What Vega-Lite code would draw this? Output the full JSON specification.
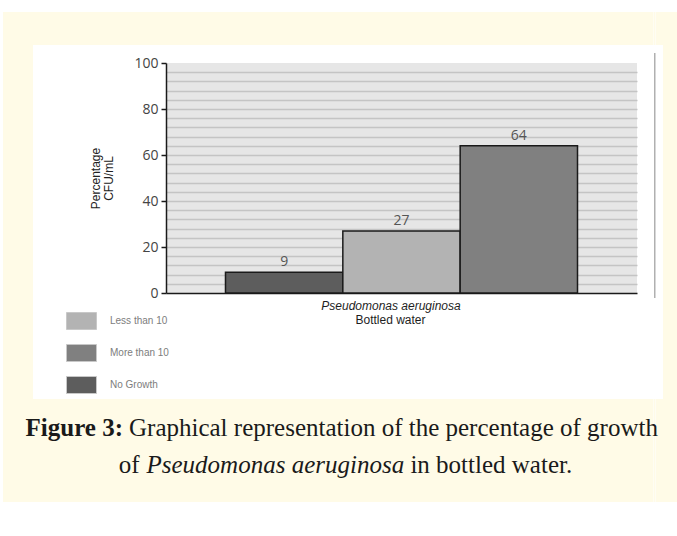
{
  "$schema": "https://vega.github.io/schema/vega-lite/v6.json",
  "background": "white",
  "padding": {"left": 3, "top": 12, "right": 0, "bottom": 34},
  "config": {"view": {"stroke": null}, "font": "Liberation Sans"},
  "columns": 7,
  "align": "each",
  "bounds": "flush",
  "spacing": 0,
  "concat": [
    {"width": 30, "height": 33, "data": {"values": []}, "mark": "rect", "view": {"fill": "#fffbe7"}},
    {"width": 133, "height": 33, "data": {"values": []}, "mark": "rect", "view": {"fill": "#fffbe7"}},
    {"width": 471, "height": 33, "data": {"values": []}, "mark": "rect", "view": {"fill": "#fffbe7"}},
    {"width": 16.5, "height": 33, "data": {"values": []}, "mark": "rect", "view": {"fill": "#fffbe7"}},
    {"width": 1.5, "height": 33, "data": {"values": []}, "mark": "rect", "view": {"fill": "#fffbe7"}},
    {"width": 7, "height": 33, "data": {"values": []}, "mark": "rect", "view": {"fill": "#fffbe7"}},
    {"width": 15, "height": 33, "data": {"values": []}, "mark": "rect", "view": {"fill": "#fffbe7"}},

    {"width": 30, "height": 8, "data": {"values": []}, "mark": "rect", "view": {"fill": "#fffbe7"}},
    {"width": 133, "height": 8, "data": {"values": []}, "mark": "rect"},
    {"width": 471, "height": 8, "data": {"values": []}, "mark": "rect"},
    {"width": 16.5, "height": 8, "data": {"values": []}, "mark": "rect"},
    {"width": 1.5, "height": 8, "data": {"values": []}, "mark": "rect"},
    {"width": 7, "height": 8, "data": {"values": []}, "mark": "rect"},
    {"width": 15, "height": 8, "data": {"values": []}, "mark": "rect", "view": {"fill": "#fffbe7"}},

    {"width": 30, "height": 10, "data": {"values": []}, "mark": "rect", "view": {"fill": "#fffbe7"}},
    {"width": 133, "height": 10, "data": {"values": []}, "mark": "rect"},
    {"width": 471, "height": 10, "data": {"values": []}, "mark": "rect"},
    {"width": 16.5, "height": 10, "data": {"values": []}, "mark": "rect"},
    {"width": 1.5, "height": 10, "data": {"values": []}, "mark": "rect", "view": {"fill": "#b0b0b0"}},
    {"width": 7, "height": 10, "data": {"values": []}, "mark": "rect"},
    {"width": 15, "height": 10, "data": {"values": []}, "mark": "rect", "view": {"fill": "#fffbe7"}},

    {"width": 30, "height": 230, "data": {"values": []}, "mark": "rect", "view": {"fill": "#fffbe7"}},
    {"width": 133, "height": 230, "data": {"values": []}, "mark": "rect"},
    {
      "width": 471,
      "height": 230,
      "view": {"fill": "#e6e6e6"},
      "data": {"values": [
        {"sample": "Pseudomonas aeruginosa", "growth": "No Growth", "percent": 9},
        {"sample": "Pseudomonas aeruginosa", "growth": "Less than 10", "percent": 27},
        {"sample": "Pseudomonas aeruginosa", "growth": "More than 10", "percent": 64}
      ]},
      "encoding": {
        "x": {
          "field": "sample", "type": "nominal",
          "scale": {"paddingInner": 0, "paddingOuter": 0.169},
          "axis": {
            "title": "Bottled water", "labelAngle": 0, "labelFontStyle": "italic",
            "labelFont": "Liberation Sans", "labelFontSize": 12, "labelColor": "#1e1e1e",
            "labelPadding": 7, "labelOffset": -10.5, "ticks": false,
            "domainColor": "#1a1a1a", "domainWidth": 1.5,
            "titleFont": "Liberation Sans", "titleFontSize": 12, "titleFontWeight": "normal",
            "titleColor": "#1e1e1e", "titlePadding": 3, "titleX": 224
          }
        },
        "xOffset": {
          "field": "growth", "type": "nominal",
          "sort": ["No Growth", "Less than 10", "More than 10"],
          "scale": {"paddingInner": 0, "paddingOuter": 0}
        },
        "y": {
          "field": "percent", "type": "quantitative",
          "scale": {"domain": [0, 100], "nice": false},
          "axis": {
            "title": ["Percentage", "CFU/mL"],
            "values": [0, 4, 8, 12, 16, 20, 24, 28, 32, 36, 40, 44, 48, 52, 56, 60, 64, 68, 72, 76, 80, 84, 88, 92, 96, 100],
            "labelExpr": "datum.value % 20 === 0 ? datum.label : ''",
            "labelOverlap": false,
            "grid": true, "gridColor": "#c4c4c4", "gridWidth": 1.5,
            "gridOpacity": {"condition": {"test": "datum.value === 0 || datum.value === 100", "value": 0}, "value": 1},
            "tickOpacity": {"condition": {"test": "datum.value % 20 === 0", "value": 1}, "value": 0},
            "tickColor": "#1a1a1a", "tickSize": 5, "tickWidth": 1.5,
            "domainColor": "#1a1a1a", "domainWidth": 1.5,
            "labelFont": "Open Sans", "labelFontSize": 14, "labelColor": "#444444", "labelPadding": 3,
            "titleFont": "Liberation Sans", "titleFontSize": 12, "titleFontWeight": "normal",
            "titleColor": "#222222", "titlePadding": 18, "titleLineHeight": 13
          }
        }
      },
      "layer": [
        {
          "mark": {"type": "bar", "stroke": "#1a1a1a", "strokeWidth": 1.5, "opacity": 1},
          "encoding": {
            "color": {
              "field": "growth", "type": "nominal",
              "scale": {"domain": ["Less than 10", "More than 10", "No Growth"], "range": ["#b3b3b3", "#808080", "#5d5d5d"]},
              "legend": {
                "orient": "none", "legendX": 63, "legendY": 293.5, "title": null,
                "direction": "vertical", "padding": 0,
                "symbolType": "M-1,-0.567H1V0.567H-1Z", "symbolSize": 900,
                "symbolStrokeColor": "#c8c8c8", "symbolStrokeWidth": 1, "symbolOpacity": 1,
                "labelFont": "Liberation Sans", "labelFontSize": 10, "labelColor": "#7d7d7d",
                "labelOffset": 13, "rowPadding": 5
              }
            }
          }
        },
        {
          "mark": {"type": "text", "dy": -10, "font": "Open Sans", "fontSize": 14, "color": "#555555"},
          "encoding": {"text": {"field": "percent", "type": "quantitative"}}
        }
      ]
    },
    {"width": 16.5, "height": 230, "data": {"values": []}, "mark": "rect"},
    {"width": 1.5, "height": 230, "data": {"values": []}, "mark": "rect", "view": {"fill": "#b0b0b0"}},
    {"width": 7, "height": 230, "data": {"values": []}, "mark": "rect"},
    {"width": 15, "height": 230, "data": {"values": []}, "mark": "rect", "view": {"fill": "#fffbe7"}},

    {"width": 30, "height": 5, "data": {"values": []}, "mark": "rect", "view": {"fill": "#fffbe7"}},
    {"width": 133, "height": 5, "data": {"values": []}, "mark": "rect"},
    {"width": 471, "height": 5, "data": {"values": []}, "mark": "rect"},
    {"width": 16.5, "height": 5, "data": {"values": []}, "mark": "rect"},
    {"width": 1.5, "height": 5, "data": {"values": []}, "mark": "rect", "view": {"fill": "#b0b0b0"}},
    {"width": 7, "height": 5, "data": {"values": []}, "mark": "rect"},
    {"width": 15, "height": 5, "data": {"values": []}, "mark": "rect", "view": {"fill": "#fffbe7"}},

    {"width": 30, "height": 101, "data": {"values": []}, "mark": "rect", "view": {"fill": "#fffbe7"}},
    {"width": 133, "height": 101, "data": {"values": []}, "mark": "rect"},
    {"width": 471, "height": 101, "data": {"values": []}, "mark": "rect"},
    {"width": 16.5, "height": 101, "data": {"values": []}, "mark": "rect"},
    {"width": 1.5, "height": 101, "data": {"values": []}, "mark": "rect"},
    {"width": 7, "height": 101, "data": {"values": []}, "mark": "rect"},
    {"width": 15, "height": 101, "data": {"values": []}, "mark": "rect", "view": {"fill": "#fffbe7"}},

    {"width": 30, "height": 46, "data": {"values": []}, "mark": "rect", "view": {"fill": "#fffbe7"}},
    {"width": 133, "height": 46, "data": {"values": []}, "mark": "rect", "view": {"fill": "#fffbe7"}},
    {"width": 471, "height": 46, "data": {"values": []}, "mark": "rect", "view": {"fill": "#fffbe7"}},
    {"width": 16.5, "height": 46, "data": {"values": []}, "mark": "rect", "view": {"fill": "#fffbe7"}},
    {"width": 1.5, "height": 46, "data": {"values": []}, "mark": "rect", "view": {"fill": "#fffbe7"}},
    {"width": 7, "height": 46, "data": {"values": []}, "mark": "rect", "view": {"fill": "#fffbe7"},
     "title": {"text": "Figure 3:", "anchor": "end", "frame": "group", "orient": "top", "baseline": "alphabetic", "offset": -62, "dx": -540,
               "font": "Liberation Serif", "fontSize": 25, "fontWeight": "bold", "color": "#1a1a1a"}},
    {"width": 15, "height": 46, "data": {"values": []}, "mark": "rect", "view": {"fill": "#fffbe7"},
     "title": {"text": "Graphical representation of the percentage of growth", "anchor": "start", "frame": "group", "orient": "top", "baseline": "alphabetic", "offset": -62, "dx": -534,
               "font": "Liberation Serif", "fontSize": 25, "fontWeight": "normal", "color": "#1a1a1a"}},

    {"width": 30, "height": 36, "data": {"values": []}, "mark": "rect", "view": {"fill": "#fffbe7"}},
    {"width": 133, "height": 36, "data": {"values": []}, "mark": "rect", "view": {"fill": "#fffbe7"}},
    {"width": 471, "height": 36, "data": {"values": []}, "mark": "rect", "view": {"fill": "#fffbe7"}},
    {"width": 16.5, "height": 36, "data": {"values": []}, "mark": "rect", "view": {"fill": "#fffbe7"}},
    {"width": 1.5, "height": 36, "data": {"values": []}, "mark": "rect", "view": {"fill": "#fffbe7"},
     "title": {"text": "of", "anchor": "end", "frame": "group", "orient": "top", "baseline": "alphabetic", "offset": -53, "dx": -516,
               "font": "Liberation Serif", "fontSize": 25, "fontWeight": "normal", "color": "#1a1a1a"}},
    {"width": 7, "height": 36, "data": {"values": []}, "mark": "rect", "view": {"fill": "#fffbe7"},
     "title": {"text": "Pseudomonas aeruginosa", "anchor": "start", "frame": "group", "orient": "top", "baseline": "alphabetic", "offset": -53, "dx": -509.5,
               "font": "Liberation Serif", "fontSize": 25, "fontStyle": "italic", "fontWeight": "normal", "color": "#1a1a1a"}},
    {"width": 15, "height": 36, "data": {"values": []}, "mark": "rect", "view": {"fill": "#fffbe7"},
     "title": {"text": "in bottled water.", "anchor": "start", "frame": "group", "orient": "top", "baseline": "alphabetic", "offset": -53, "dx": -252.6,
               "font": "Liberation Serif", "fontSize": 25, "fontWeight": "normal", "color": "#1a1a1a"}},

    {"width": 30, "height": 21, "data": {"values": []}, "mark": "rect", "view": {"fill": "#fffbe7"}},
    {"width": 133, "height": 21, "data": {"values": []}, "mark": "rect", "view": {"fill": "#fffbe7"}},
    {"width": 471, "height": 21, "data": {"values": []}, "mark": "rect", "view": {"fill": "#fffbe7"}},
    {"width": 16.5, "height": 21, "data": {"values": []}, "mark": "rect", "view": {"fill": "#fffbe7"}},
    {"width": 1.5, "height": 21, "data": {"values": []}, "mark": "rect", "view": {"fill": "#fffbe7"}},
    {"width": 7, "height": 21, "data": {"values": []}, "mark": "rect", "view": {"fill": "#fffbe7"}},
    {"width": 15, "height": 21, "data": {"values": []}, "mark": "rect", "view": {"fill": "#fffbe7"}}
  ]
}
